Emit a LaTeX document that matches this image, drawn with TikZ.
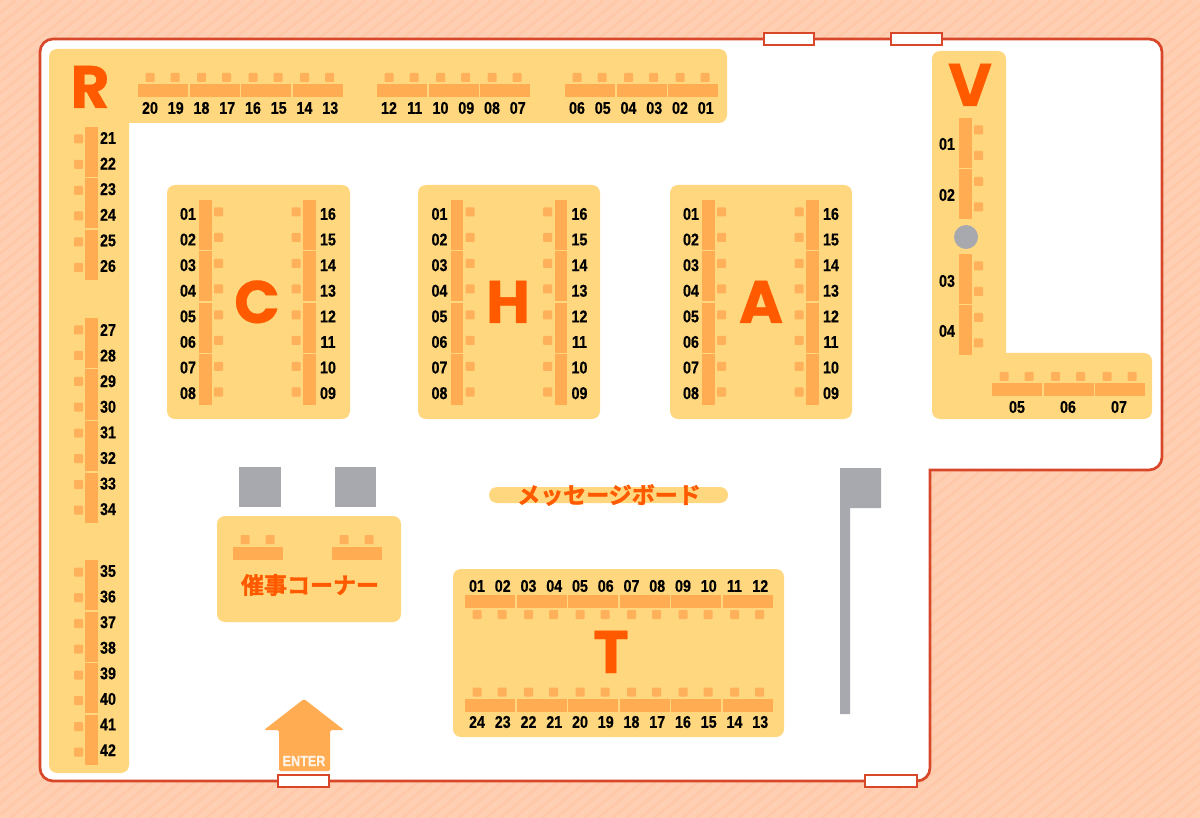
\documentclass[tikz,border=0pt]{standalone}
\usepackage{fontspec}
\setmainfont[BoldFont={Liberation Sans Bold}]{Liberation Sans}
\newfontfamily\numfont[FakeStretch=.84,BoldFont={Liberation Sans Bold},BoldFeatures={FakeStretch=.84,FakeBold=.5}]{Liberation Sans}
\newfontfamily\capfont[FakeBold=.5]{Poppins Bold}
\newfontfamily\jpfont[FakeBold=1.8]{Noto Sans CJK JP Bold}
\definecolor{paper}{HTML}{FFCFB3}
\definecolor{stripe}{HTML}{FFC8A8}
\definecolor{wall}{HTML}{D9472A}
\definecolor{block}{HTML}{FFD77F}
\definecolor{desk}{HTML}{FFAC52}
\definecolor{seat}{HTML}{FFB05A}
\definecolor{letter}{HTML}{FF5A00}
\definecolor{postgray}{HTML}{A8A9AE}
\tikzset{
  wallline/.style={draw=wall,line width=2.7pt},
  door/.style={draw=wall,fill=white,line width=2.4pt},
  blockarea/.style={fill=block,rounded corners=8pt},
  deskbar/.style={fill=desk},
  seatbox/.style={fill=seat,rounded corners=1pt},
  postbox/.style={fill=postgray},
  num/.style={inner sep=0pt,font=\numfont\bfseries\fontsize{17}{18}\selectfont},
  bigletter/.style={inner sep=0pt,anchor=base,text=letter,font=\capfont\fontsize{60}{62}\selectfont},
  jplabel/.style={inner sep=0pt,text=letter,font=\jpfont\fontsize{23}{24}\selectfont},
}
% desks running left to right, two seats each
\newcommand{\hdesks}[4]{
  \foreach \u in {1,...,#4}{
    \pgfmathsetmacro{\xa}{#1+51.5*(\u-1)}
    \fill[deskbar] (\xa,#2) rectangle (\xa+50,#2+13);
    \fill[seatbox] (\xa+7.5,#3-4.5) rectangle (\xa+16.5,#3+4.5);
    \fill[seatbox] (\xa+32.5,#3-4.5) rectangle (\xa+41.5,#3+4.5);
  }
}
% desks running top to bottom
\newcommand{\vdesks}[4]{
  \foreach \u in {1,...,#4}{
    \pgfmathsetmacro{\ya}{#3+51.5*(\u-1)}
    \fill[deskbar] (#1,\ya) rectangle (#1+12.5,\ya+50);
    \fill[seatbox] (#2-4.5,\ya+7.5) rectangle (#2+4.5,\ya+16.5);
    \fill[seatbox] (#2-4.5,\ya+33) rectangle (#2+4.5,\ya+42);
  }
}
\newcommand{\hnums}[4]{
  \foreach \lab [count=\i from 0] in {#4}{
    \pgfmathsetmacro{\xa}{#2+12+25.75*\i}
    \node[num] (#1-\lab) at (\xa,#3) {\lab};
  }
}
\newcommand{\vnums}[4]{
  \foreach \lab [count=\i from 0] in {#4}{
    \pgfmathsetmacro{\ya}{#3+12+25.6*\i}
    \node[num] (#1-\lab) at (#2,\ya) {\lab};
  }
}
\begin{document}
\begin{tikzpicture}[x=1pt,y=-1pt]
\useasboundingbox (0,0) rectangle (1200,818);
\fill[paper] (0,0) rectangle (1200,818);
\begin{scope}
\clip (0,0) rectangle (1200,818);
\foreach \k in {-1040,-1026,...,1200}
  \draw[stripe,line width=2.6pt] (\k,818)--(\k+1000,0);
\end{scope}
%room
\draw[wallline,fill=white] [rounded corners=13pt] (40,39)--(1162,39)--(1162,470)
  [sharp corners] --(930,470) [rounded corners=13pt] --(930,781)--(40,781)--cycle;
\draw[door] (764,33) rectangle (814,45);
\draw[door] (891,33) rectangle (942,45);
\draw[door] (278,775) rectangle (329,787);
\draw[door] (865,775) rectangle (917,787);
%blocks
\fill[blockarea] (49,49)--(727,49)--(727,123)[sharp corners]--(129,123)[rounded corners=8pt]--(129,773)--(49,773)--cycle;
\fill[blockarea] (932,51)--(1006,51)[sharp corners]--(1006,353)[rounded corners=8pt]--(1152,353)--(1152,419)--(932,419)--cycle;
\fill[blockarea] (167,185) rectangle (350,419);
\fill[blockarea] (418,185) rectangle (600,419);
\fill[blockarea] (670,185) rectangle (852,419);
\fill[blockarea] (217,516) rectangle (401,622);
\fill[blockarea] (453,569) rectangle (784,737);
\fill[block,rounded corners=8pt] (489,487) rectangle (728,503);
%R
\hdesks{138}{84}{77.5}{4}
\hdesks{377}{84}{77.5}{3}
\hdesks{565}{84}{77.5}{3}
\hnums{R}{138}{108}{20,19,18,17,16,15,14,13}
\hnums{R}{377}{108}{12,11,10,09,08,07}
\hnums{R}{565}{108}{06,05,04,03,02,01}
\vdesks{85}{78.5}{127}{3}
\vdesks{85}{78.5}{318}{4}
\vdesks{85}{78.5}{560}{4}
\vnums{R}{108}{126}{21,22,23,24,25,26}
\vnums{R}{108}{318}{27,28,29,30,31,32,33,34}
\vnums{R}{108}{559}{35,36,37,38,39,40,41,42}
\node[bigletter] (letterR) at (90,108) {R};
%C H A
\foreach \blk/\dx/\tx in {C/0/257,H/251.5/508,A/503/761}{
  \vdesks{199+\dx}{218.5+\dx}{200}{4}
  \vdesks{303+\dx}{296+\dx}{200}{4}
  \vnums{\blk}{188+\dx}{202}{01,02,03,04,05,06,07,08}
  \vnums{\blk}{328+\dx}{202}{16,15,14,13,12,11,10,09}
  \node[bigletter] (letter\blk) at (\tx,323) {\blk};
}
%V
\vdesks{959}{978.5}{118}{2}
\vdesks{959}{978.5}{254}{2}
\hdesks{992}{383}{376.5}{3}
\fill[postbox] (966,237) circle[radius=12];
\node[num] (V-01) at (947,144) {01};
\node[num] (V-02) at (947,195) {02};
\node[num] (V-03) at (947,281) {03};
\node[num] (V-04) at (947,331) {04};
\node[num] (V-05) at (1017,407) {05};
\node[num] (V-06) at (1068,407) {06};
\node[num] (V-07) at (1119,407) {07};
\node[bigletter] (letterV) at (970,106) {V};
%T
\hdesks{465}{595}{614.5}{6}
\hdesks{465}{699}{692}{6}
\hnums{T}{465}{586}{01,02,03,04,05,06,07,08,09,10,11,12}
\hnums{T}{465}{722}{24,23,22,21,20,19,18,17,16,15,14,13}
\node[bigletter] (letterT) at (611,673) {T};
%event corner
\hdesks{233}{547}{539.5}{1}
\hdesks{332}{547}{539.5}{1}
\node[jplabel] (event) at (310,585) {催事コーナー};
\node[jplabel] (board) at (609,495) {メッセージボード};
%posts
\fill[postbox] (239,467) rectangle (281,507);
\fill[postbox] (335,467) rectangle (376,507);
\fill[postbox] (840,468)--(881,468)--(881,508)--(850,508)--(850,714)--(840,714)--cycle;
%entrance
\fill[desk,rounded corners=1.5pt] (304,699)--(344,730)--(330,730)--(330,771)--(279,771)--(279,730)--(264,730)--cycle;
\node[inner sep=0pt,text=white!85!desk,font=\numfont\bfseries\fontsize{15}{16}\selectfont] (enter) at (304,761) {ENTER};
\end{tikzpicture}
\end{document}
